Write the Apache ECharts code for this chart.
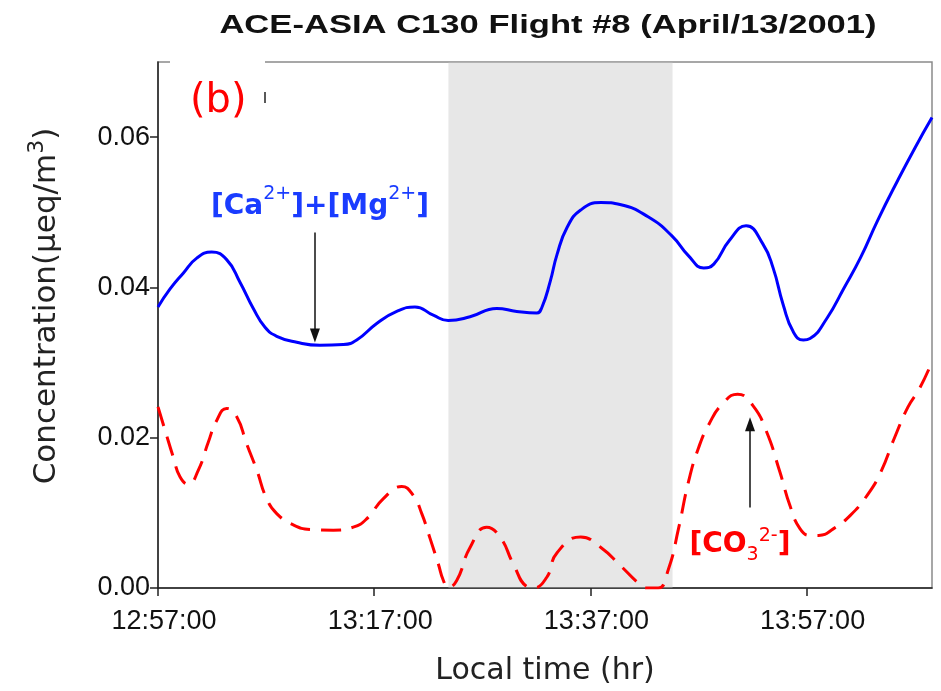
<!DOCTYPE html>
<html>
<head>
<meta charset="utf-8">
<title>ACE-ASIA C130 Flight #8</title>
<script src="https://cdn.jsdelivr.net/npm/echarts@6/dist/echarts.min.js"></script>
<style>
  html, body { margin: 0; padding: 0; background: #fff; }
  #chart { width: 941px; height: 691px; }
</style>
</head>
<body>
<div id="chart"></div>
<script>
// Flight time base and axis layout values
const chartTitle = 'ACE-ASIA C130 Flight #8 (April/13/2001)';
const startTime = '12:57:00';
const endTime = '14:08:36';
const xTickLabels = ['12:57:00', '13:17:00', '13:37:00', '13:57:00'];
const yTickValues = [0, 0.02, 0.04, 0.06];

// [Ca2+]+[Mg2+] concentration (ueq/m3)
const caMgTimes = [
  '12:57:00', '12:58:07', '12:59:20', '13:00:35', '13:01:58', '13:03:21', '13:04:35', '13:05:49',
  '13:06:54', '13:07:59', '13:09:50', '13:11:59', '13:14:09', '13:15:23', '13:17:14', '13:19:05',
  '13:20:46', '13:22:28', '13:23:51', '13:25:52', '13:28:20', '13:30:11', '13:32:02', '13:32:30',
  '13:33:17', '13:33:55', '13:34:51', '13:36:06', '13:37:58', '13:39:50', '13:42:20', '13:44:31',
  '13:46:05', '13:47:29', '13:48:25', '13:49:50', '13:51:24', '13:52:57', '13:53:54', '13:54:50',
  '13:55:46', '13:56:42', '13:57:19', '13:58:53', '14:00:27', '14:02:00', '14:03:34', '14:05:27',
  '14:07:02', '14:08:36'
];
const caMgValues = [
  0.0374, 0.0398, 0.0419, 0.0439, 0.0447, 0.0437, 0.0407, 0.0372,
  0.0347, 0.0335, 0.0327, 0.0323, 0.0324, 0.0330, 0.0352, 0.0368,
  0.0374, 0.0363, 0.0356, 0.0361, 0.0372, 0.0368, 0.0366, 0.0373,
  0.0408, 0.0444, 0.0480, 0.0503, 0.0513, 0.0510, 0.0494, 0.0469,
  0.0442, 0.0426, 0.0431, 0.0462, 0.0482, 0.0458, 0.0426, 0.0377,
  0.0341, 0.0330, 0.0332, 0.0359, 0.0399, 0.0440, 0.0489, 0.0543,
  0.0586, 0.0626
];

// [CO3 2-] concentration (ueq/m3)
const co3Times = [
  '12:57:00', '12:57:39', '12:58:25', '12:59:02', '12:59:48', '13:00:44', '13:01:39', '13:02:26',
  '13:03:21', '13:04:17', '13:05:12', '13:06:08', '13:07:03', '13:07:59', '13:09:31', '13:11:04',
  '13:13:13', '13:15:04', '13:16:18', '13:17:51', '13:19:33', '13:20:37', '13:21:24', '13:22:10',
  '13:22:56', '13:23:24', '13:23:51', '13:24:38', '13:25:52', '13:27:24', '13:28:38', '13:29:52',
  '13:31:06', '13:31:43', '13:32:57', '13:33:55', '13:36:06', '13:37:58', '13:39:50', '13:41:24',
  '13:42:11', '13:43:16', '13:44:13', '13:45:09', '13:46:05', '13:47:01', '13:47:58', '13:49:13',
  '13:50:37', '13:52:01', '13:53:16', '13:54:31', '13:55:27', '13:56:23', '13:57:19', '13:58:07',
  '13:59:30', '14:01:04', '14:02:38', '14:03:53', '14:05:08', '14:06:23', '14:07:28', '14:08:36'
];
const co3Values = [
  0.0241, 0.0210, 0.0174, 0.0148, 0.0138, 0.0157, 0.0194, 0.0223,
  0.0239, 0.0228, 0.0192, 0.0157, 0.0119, 0.0099, 0.0084, 0.0078,
  0.0077, 0.0081, 0.0092, 0.0119, 0.0135, 0.0123, 0.0099, 0.0066,
  0.0032, 0.0010, 0.0001, 0.0010, 0.0054, 0.0081, 0.0068, 0.0032,
  0.0002, 0.0000, 0.0014, 0.0047, 0.0068, 0.0054, 0.0029, 0.0007,
  0.0000, 0.0000, 0.0025, 0.0079, 0.0142, 0.0187, 0.0218, 0.0245,
  0.0258, 0.0243, 0.0209, 0.0155, 0.0110, 0.0079, 0.0070, 0.0070,
  0.0079, 0.0097, 0.0124, 0.0155, 0.0200, 0.0241, 0.0266, 0.0301
];

// Shaded time window
const shadeWindow = ['13:23:52', '13:44:36'];

// Annotation anchors: [time, value]
const caMgLabelAt = ['13:11:59', 0.0513];
const caMgArrow = [['13:11:31', 0.0473], ['13:11:31', 0.0336]];
const co3LabelAt = ['13:50:50', 0.0057];
const co3Arrow = [['13:51:46', 0.0107], ['13:51:46', 0.0218]];

function toSec(t) {
  const p = t.split(':').map(Number);
  return p[0] * 3600 + p[1] * 60 + p[2];
}
const t0 = toSec(startTime);
const rel = t => toSec(t) - t0;
function fmtTime(sec) {
  const s = Math.round(sec) + t0;
  const h = Math.floor(s / 3600), m = Math.floor((s % 3600) / 60), ss = s % 60;
  const pad = n => String(n).padStart(2, '0');
  return h + ':' + pad(m) + ':' + pad(ss);
}
const pairs = (times, vals) => times.map((t, i) => [rel(t), vals[i]]);

const tickFont = 'Liberation Sans, Arial, sans-serif';
const nameFont = 'DejaVu Sans, Verdana, sans-serif';

const chart = echarts.init(document.getElementById('chart'), null, { renderer: 'canvas' });

chart.setOption({
  backgroundColor: '#ffffff',
  animation: false,
  grid: {
    left: 158, right: 9, top: 62, bottom: 103,
    show: true, borderColor: '#8a8a8a', borderWidth: 1.5, backgroundColor: 'transparent'
  },
  xAxis: {
    type: 'value',
    min: 0,
    max: rel(endTime),
    interval: 1200,
    name: 'Local time (hr)',
    nameLocation: 'middle',
    nameGap: 68,
    nameTextStyle: { fontFamily: nameFont, fontSize: 30, color: '#222' },
    axisLine: { show: true, lineStyle: { color: '#222', width: 1.5 } },
    axisTick: {
      show: true, length: 8, lineStyle: { color: '#222', width: 1.5 },
      customValues: xTickLabels.map(rel)
    },
    axisLabel: {
      customValues: xTickLabels.map(rel),
      formatter: v => fmtTime(v),
      fontFamily: tickFont, fontSize: 27, color: '#111', margin: 20,
      padding: [0, 0, 0, 12]
    },
    splitLine: { show: false }
  },
  yAxis: {
    type: 'value',
    min: 0,
    max: 0.07,
    interval: 0.02,
    axisLine: { show: true, lineStyle: { color: '#222', width: 1.5 } },
    axisTick: {
      show: true, length: 8, lineStyle: { color: '#222', width: 1.5 },
      customValues: yTickValues
    },
    axisLabel: {
      customValues: yTickValues,
      formatter: v => v.toFixed(2),
      fontFamily: tickFont, fontSize: 27, color: '#111', margin: 8
    },
    splitLine: { show: false }
  },
  graphic: [
    {
      // title, widened to the heading's letter spacing
      type: 'text', x: 548, y: 13, scaleX: 1.33, originX: 0, z: 60,
      style: {
        text: chartTitle, fontFamily: tickFont, fontWeight: 'bold', fontSize: 26,
        fill: '#111', align: 'center', verticalAlign: 'top'
      }
    },
    {
      // y-axis title, reading bottom to top
      type: 'text', x: 62, y: 306, rotation: Math.PI / 2, z: 60,
      style: {
        text: '{n|Concentration(\u03bceq/m}{s|3}{n|)}',
        align: 'center', verticalAlign: 'bottom',
        rich: {
          n: { fontFamily: nameFont, fontSize: 31, fill: '#222', lineHeight: 36, verticalAlign: 'bottom' },
          s: { fontFamily: nameFont, fontSize: 22, fill: '#222', lineHeight: 36, verticalAlign: 'top' }
        }
      }
    },
    {
      type: 'rect', left: 170, top: 58, z: 50,
      shape: { width: 95, height: 8 },
      style: { fill: '#ffffff' }
    },
    {
      type: 'line', z: 51,
      shape: { x1: 265, y1: 92, x2: 265, y2: 103 },
      style: { stroke: '#222', lineWidth: 1.5 }
    },
    {
      type: 'text', left: 190, top: 82, z: 51,
      style: { text: '(b)', fontFamily: nameFont, fontSize: 40, fill: '#ff0000' }
    }
  ],
  series: [
    {
      name: '[Ca2+]+[Mg2+]',
      type: 'line',
      data: pairs(caMgTimes, caMgValues),
      smooth: 0.5,
      showSymbol: false,
      z: 2,
      lineStyle: { color: '#0000ff', width: 3 },
      markLine: {
        silent: true,
        symbol: ['none', 'triangle'],
        symbolSize: [10, 14],
        label: { show: false },
        lineStyle: { color: '#111', width: 1.5, type: 'solid' },
        data: [[
          { coord: [rel(caMgArrow[0][0]), caMgArrow[0][1]] },
          { coord: [rel(caMgArrow[1][0]), caMgArrow[1][1]] }
        ]]
      },
      markPoint: {
        silent: true,
        symbol: 'circle', symbolSize: 0,
        label: {
          show: true,
          formatter: '{b|[Ca}{p|2+}{b|]+[Mg}{p|2+}{b|]}',
          rich: {
            b: { fontFamily: nameFont, fontWeight: 'bold', fontSize: 28, color: '#1a3cff', lineHeight: 36, verticalAlign: 'bottom' },
            p: { fontFamily: nameFont, fontSize: 19, color: '#1a3cff', lineHeight: 36, verticalAlign: 'top' }
          }
        },
        data: [{ coord: [rel(caMgLabelAt[0]), caMgLabelAt[1]] }]
      }
    },
    {
      name: '[CO3 2-]',
      type: 'line',
      data: pairs(co3Times, co3Values),
      smooth: 0.5,
      showSymbol: false,
      z: 2,
      lineStyle: { color: '#ff0000', width: 3, type: [20, 11] },
      markLine: {
        silent: true,
        symbol: ['none', 'triangle'],
        symbolSize: [10, 14],
        label: { show: false },
        lineStyle: { color: '#111', width: 1.5, type: 'solid' },
        data: [[
          { coord: [rel(co3Arrow[0][0]), co3Arrow[0][1]] },
          { coord: [rel(co3Arrow[1][0]), co3Arrow[1][1]] }
        ]]
      },
      markPoint: {
        silent: true,
        symbol: 'circle', symbolSize: 0,
        label: {
          show: true,
          formatter: '{b|[CO}{d|3}{p|2-}{b|]}',
          rich: {
            b: { fontFamily: nameFont, fontWeight: 'bold', fontSize: 28, color: '#ff0000', lineHeight: 38, verticalAlign: 'middle' },
            d: { fontFamily: nameFont, fontSize: 19, color: '#ff0000', lineHeight: 38, verticalAlign: 'bottom' },
            p: { fontFamily: nameFont, fontSize: 19, color: '#ff0000', lineHeight: 38, verticalAlign: 'top' }
          }
        },
        data: [{ coord: [rel(co3LabelAt[0]), co3LabelAt[1]] }]
      }
    },
    {
      name: 'window',
      type: 'line',
      data: [],
      z: 5,
      markArea: {
        silent: true,
        itemStyle: { color: 'rgba(195,195,195,0.4)' },
        data: [[{ xAxis: rel(shadeWindow[0]) }, { xAxis: rel(shadeWindow[1]) }]]
      }
    }
  ]
});
</script>
</body>
</html>
